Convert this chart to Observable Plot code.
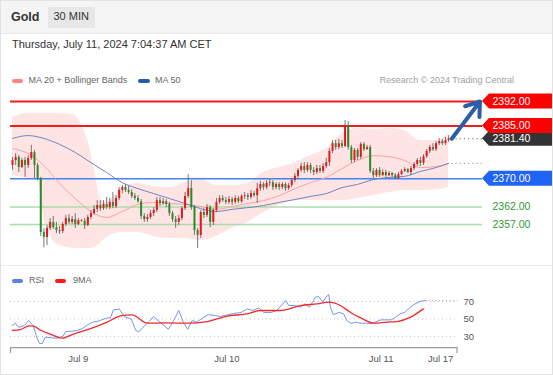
<!DOCTYPE html>
<html><head><meta charset="utf-8">
<script src="https://cdn.jsdelivr.net/npm/d3@7"></script>
<script src="https://cdn.jsdelivr.net/npm/@observablehq/plot@0.6"></script>
<style>
html,body{margin:0;padding:0;background:#fff;}
#wrap{position:relative;width:553px;height:375px;overflow:hidden;font-family:"Liberation Sans",Arial,sans-serif;}
.abs{position:absolute;white-space:nowrap;line-height:1;}
.sw{position:absolute;height:4px;border-radius:2px;}
svg{position:absolute;left:0;overflow:visible;}
</style></head><body>
<div id="wrap">
  <div class="abs" style="left:0;top:0;width:553px;height:33px;background:#f5f5f5;border-bottom:1px solid #e8e8e8;"></div>
  <div class="abs" style="left:11px;top:11px;font-size:12.5px;font-weight:bold;color:#333;">Gold</div>
  <div class="abs" style="left:48px;top:7px;width:47px;height:21px;background:#e7e7e7;border-radius:2px;"></div>
  <div class="abs" style="left:53.5px;top:11.4px;font-size:11px;color:#333;">30 MIN</div>
  <div class="abs" style="left:12px;top:39px;font-size:11px;color:#333;">Thursday, July 11, 2024 7:04:37 AM CET</div>
  <div class="sw" style="left:12px;top:79px;width:11px;background:#ff8585;"></div>
  <div class="abs" style="left:28.5px;top:76.4px;font-size:9px;color:#666;">MA 20 + Bollinger Bands</div>
  <div class="sw" style="left:138px;top:79px;width:12px;background:#2a5aa8;"></div>
  <div class="abs" style="left:155px;top:76.4px;font-size:9px;color:#666;">MA 50</div>
  <div class="abs" style="right:39px;top:76.4px;font-size:9px;color:#a0a0a0;">Research © 2024 Trading Central</div>
  <div class="abs" style="left:0;top:265px;width:553px;height:1px;background:#ececec;"></div>
  <div class="sw" style="left:12px;top:279px;width:11px;background:#5b80e8;"></div>
  <div class="abs" style="left:29px;top:276.4px;font-size:9px;color:#666;">RSI</div>
  <div class="sw" style="left:54.5px;top:279px;width:11.5px;background:#ff1a1a;"></div>
  <div class="abs" style="left:73px;top:276.4px;font-size:9px;color:#666;">9MA</div>
  <div id="main"></div>
  <div id="rsi"></div>
  <div class="abs" style="left:0;top:0;width:553px;height:375px;box-sizing:border-box;border:1px solid #e2e2e2;pointer-events:none;"></div>
</div>
<script>
// ---- price data (30 min candles) ----
const open = [2373.8,2375.2,2376.1,2373.2,2375.2,2373.8,2375.8,2377.5,2373.8,2370.1,
2354.7,2353.3,2355.9,2357.6,2356.1,2355.3,2355.0,2357.0,2358.7,2357.6,
2358.4,2357.0,2358.1,2357.9,2356.7,2359.0,2360.1,2361.3,2362.4,2361.5,
2362.7,2361.8,2363.3,2362.1,2364.4,2366.7,2367.5,2366.7,2366.1,2365.0,
2364.4,2363.5,2359.3,2358.4,2359.0,2360.1,2361.0,2363.8,2363.0,2363.5,
2362.7,2360.1,2358.4,2357.6,2358.7,2361.5,2365.0,2367.2,2361.8,2355.3,
2353.9,2360.4,2359.6,2361.8,2357.6,2361.0,2363.3,2364.4,2363.8,2363.3,
2364.1,2363.3,2364.4,2363.5,2365.0,2365.2,2364.7,2365.8,2365.2,2367.2,
2368.4,2367.5,2368.7,2368.9,2367.5,2368.4,2367.5,2368.4,2367.2,2368.1,
2369.5,2370.7,2372.4,2373.5,2372.4,2373.8,2372.4,2371.8,2372.9,2372.1,
2373.5,2374.6,2377.8,2380.0,2378.9,2380.0,2379.2,2385.2,2378.9,2375.2,
2378.1,2376.1,2379.8,2378.3,2378.9,2372.1,2370.9,2372.4,2370.9,2371.8,
2370.9,2371.5,2370.9,2370.1,2371.2,2372.1,2372.6,2371.8,2372.9,2374.1,
2375.2,2374.4,2376.3,2377.8,2378.9,2378.3,2380.0,2380.6,2380.0,2380.9];
const high = [2376.1,2377.2,2376.6,2375.8,2376.1,2376.6,2379.5,2378.1,2374.4,2370.4,
2355.9,2356.7,2358.7,2359.3,2357.6,2356.4,2357.6,2359.6,2359.8,2359.3,
2360.1,2358.7,2358.4,2358.7,2359.6,2361.0,2362.4,2363.8,2363.8,2363.8,
2364.7,2364.4,2366.1,2365.2,2367.5,2368.1,2368.4,2367.8,2366.9,2365.8,
2365.2,2364.1,2360.1,2359.8,2361.0,2361.8,2364.7,2364.7,2364.4,2364.1,
2363.3,2360.7,2359.3,2359.6,2362.1,2366.1,2371.2,2369.5,2362.4,2355.9,
2361.0,2361.5,2362.7,2362.4,2361.5,2364.4,2365.2,2365.2,2364.7,2365.0,
2364.7,2365.2,2365.0,2365.5,2366.1,2365.8,2366.7,2366.4,2368.7,2369.2,
2368.9,2369.5,2369.8,2369.5,2368.9,2368.9,2368.9,2368.9,2368.7,2370.1,
2371.5,2372.9,2374.4,2374.6,2374.6,2374.4,2373.2,2373.8,2373.8,2374.4,
2375.8,2378.6,2380.9,2380.9,2381.2,2380.9,2386.6,2386.3,2379.5,2378.6,
2378.6,2380.3,2380.3,2379.5,2379.5,2372.9,2372.9,2373.2,2372.6,2372.4,
2372.1,2371.8,2371.5,2371.8,2372.6,2373.2,2372.9,2373.5,2374.6,2375.8,
2376.1,2376.9,2378.3,2379.5,2380.0,2380.6,2381.5,2381.2,2381.8,2382.3];
const low = [2372.4,2373.8,2371.8,2372.9,2370.4,2372.9,2375.2,2370.1,2369.5,2353.6,
2350.4,2351.0,2355.3,2355.6,2354.4,2354.2,2354.4,2356.4,2357.0,2357.0,
2355.9,2356.7,2357.6,2355.6,2356.4,2358.4,2359.6,2360.4,2360.7,2361.0,
2361.3,2361.3,2361.5,2361.5,2363.8,2365.8,2366.1,2365.5,2364.4,2363.8,
2363.0,2358.4,2357.6,2357.6,2358.4,2359.3,2360.4,2362.1,2362.4,2361.8,
2359.3,2357.6,2355.9,2356.7,2358.1,2361.0,2364.4,2361.0,2353.9,2350.2,
2353.0,2358.7,2359.0,2356.1,2356.7,2360.4,2362.7,2363.3,2362.7,2362.7,
2362.4,2362.7,2363.0,2363.0,2364.1,2363.8,2364.1,2364.7,2363.0,2366.4,
2366.7,2366.9,2367.8,2366.7,2366.9,2366.7,2366.9,2366.4,2366.7,2367.5,
2368.9,2370.1,2371.8,2371.5,2371.8,2371.5,2370.9,2371.2,2371.5,2371.5,
2372.9,2373.5,2377.2,2378.1,2378.3,2378.6,2378.9,2378.1,2374.4,2374.6,
2375.2,2375.5,2377.8,2378.1,2371.5,2370.1,2370.4,2370.4,2370.7,2370.4,
2370.7,2370.4,2369.8,2369.8,2370.9,2371.8,2371.5,2370.9,2372.4,2373.5,
2373.5,2373.8,2375.8,2377.2,2377.8,2377.8,2379.5,2379.5,2379.5,2380.3];
const close = [2375.2,2376.1,2373.2,2375.2,2373.8,2375.8,2377.5,2373.8,2370.1,2354.7,
2353.3,2355.9,2357.6,2356.1,2355.3,2355.0,2357.0,2358.7,2357.6,2358.4,
2357.0,2358.1,2357.9,2356.7,2359.0,2360.1,2361.3,2362.4,2361.5,2362.7,
2361.8,2363.3,2362.1,2364.4,2366.7,2367.5,2366.7,2366.1,2365.0,2364.4,
2363.5,2359.3,2358.4,2359.0,2360.1,2361.0,2363.8,2363.0,2363.5,2362.7,
2360.1,2358.4,2357.6,2358.7,2361.5,2365.0,2367.2,2361.8,2355.3,2353.9,
2360.4,2359.6,2361.8,2357.6,2361.0,2363.3,2364.4,2363.8,2363.3,2364.1,
2363.3,2364.4,2363.5,2365.0,2365.2,2364.7,2365.8,2365.2,2367.2,2368.4,
2367.5,2368.7,2368.9,2367.5,2368.4,2367.5,2368.4,2367.2,2368.1,2369.5,
2370.7,2372.4,2373.5,2372.4,2373.8,2372.4,2371.8,2372.9,2372.1,2373.5,
2374.6,2377.8,2380.0,2378.9,2380.0,2379.2,2385.2,2378.9,2375.2,2378.1,
2376.1,2379.8,2378.3,2378.9,2372.1,2370.9,2372.4,2370.9,2371.8,2370.9,
2371.5,2370.9,2370.1,2371.2,2372.1,2372.6,2371.8,2372.9,2374.1,2375.2,
2374.4,2376.3,2377.8,2378.9,2378.3,2380.0,2380.6,2380.0,2380.9,2381.4];

// ---- moving averages (read at candle indexes) ----
const maIdx = [0,5,10,15,20,25,30,35,40,45,50,55,60,65,70,75,80,85,90,95,100,105,110,115,120,125,130,135,139];
const ma20 = [2378.6,2377.2,2373.8,2368.7,2364.4,2360.7,2359.0,2360.7,2362.7,2363.3,2363.0,2362.7,2362.1,2361.3,2362.1,2363.0,2363.8,2365.2,2367.2,2368.9,2370.4,2372.9,2375.2,2376.6,2376.3,2375.2,2373.2,2373.5,2374.4];
const ma50 = [2381.5,2382.3,2381.5,2379.8,2377.5,2374.6,2371.8,2368.9,2367.2,2365.8,2364.4,2363.0,2361.5,2360.7,2361.3,2361.8,2362.4,2363.3,2364.1,2365.0,2365.8,2367.5,2368.4,2369.8,2370.4,2370.7,2372.1,2373.2,2374.4];
const bandIdx = [0,5,8,10,12,15,20,22,24,26,28,30,35,40,45,50,55,60,65,70,75,80,85,90,95,100,105,110,115,120,125,130,135,139];
const bandUpper = [2387.4,2388.6,2388.6,2388.6,2388.6,2388.6,2388.0,2385.2,2380.9,2372.9,2364.4,2363.3,2367.5,2368.7,2367.8,2367.5,2368.9,2369.8,2368.1,2368.1,2368.7,2371.8,2373.2,2374.6,2376.6,2378.6,2382.9,2384.3,2384.0,2384.3,2383.7,2380.9,2380.9,2382.9];
const bandLower = [2370.9,2370.1,2369.5,2358.7,2353.9,2351.0,2350.2,2350.2,2350.2,2350.4,2351.6,2353.3,2354.7,2354.7,2353.6,2353.0,2353.0,2352.4,2353.6,2355.9,2357.6,2360.4,2362.4,2363.8,2363.8,2363.8,2363.8,2364.4,2365.2,2366.1,2366.7,2366.7,2366.9,2367.5];

// ---- levels ----
const resistance = [2392, 2385];
const pivot = 2370;
const support = [2362, 2357];

// ---- RSI panel ----
const rsiIdx = [0,1,2,4,5.5,7,8,9,10,11,13,15,17,18,20,22,23.5,25,27,28.5,30,32,33,34,36,37,38,40,41.5,42.5,44,46,47.5,49,51,52.5,54,56,57.5,59,60.5,62,64.5,66,68,70,72,74.5,77,79,81,83,84.5,87,89,91,92,93,95,97,98.5,100,102,103,104.5,105.5,106.5,107,108,110,111.5,112.5,114,115.5,117,119,120.5,122,124,125.5,127.5,129,130.5,132,134,135.5,137.5,139];
const rsiVal = [42.6,45.2,40.6,42.6,48.3,42.6,31.1,22.4,21.7,29.3,28.5,28.1,30.3,35.9,35.9,37.1,39.0,42.6,46.4,47.1,49.0,51.3,51.3,60.5,61.2,55.9,52.1,50.2,37.1,35.2,40.6,47.1,52.9,48.3,42.6,38.3,46.4,59.7,46.4,38.3,48.3,46.4,52.1,55.1,54.0,52.9,54.4,56.3,57.5,61.6,59.7,62.8,57.5,57.5,59.7,67.3,71.1,65.4,65.4,63.5,67.3,63.5,74.9,75.7,69.2,74.9,78.0,63.5,55.1,57.5,55.9,48.3,44.8,46.4,45.2,45.2,44.8,46.4,49.0,49.0,49.0,52.1,55.9,57.5,63.5,67.3,70.4,71.1];
const ma9Idx = [0,2.7,5.5,7.2,9.5,12.8,16.7,20.7,26.3,31.9,36.4,40.3,45.4,52.1,58.8,65.6,72.3,79,83.5,90.2,97,102.6,106.5,110.4,113.8,117.2,121.6,126.1,129.5,134,138.3];
const ma9Val = [37.1,37.9,42.2,41.8,37.1,32.6,28.1,33.0,39.0,46.4,53.6,54.7,45.2,45.6,45.2,47.1,53.3,55.9,59.7,59.7,65.4,67.3,69.2,65.4,57.5,51.3,45.2,46.4,47.1,52.1,61.6];
const rsiTicks = [30, 50, 70];
const dateTickIdx = [22.2, 72.2, 124.1, 144.1];
const dateTickLabels = ["Jul 9", "Jul 10", "Jul 11", "Jul 17"];

// ---- build ----
const N = close.length;
const candles = close.map((c, i) => ({i, o: open[i], h: high[i], l: low[i], c}));
const up = candles.filter(d => d.c >= d.o);
const down = candles.filter(d => d.c < d.o);
const maPts = maIdx.map((i, k) => ({i, a: ma20[k], b: ma50[k]}));
const bandPts = bandIdx.map((i, k) => ({i, u: bandUpper[k], l: bandLower[k]}));
const rsiPts = rsiIdx.map((i, k) => ({i, v: rsiVal[k]}));
const ma9Pts = ma9Idx.map((i, k) => ({i, v: ma9Val[k]}));
const lastPrice = close[N - 1];
const lastMa50 = ma50[ma50.length - 1];
const xDomain = [-0.64, N + 9.8];
const font = "Liberation Sans, Arial, sans-serif";

const main = Plot.plot({
  width: 553, height: 175, marginLeft: 10, marginRight: 71, marginTop: 0, marginBottom: 0,
  style: {fontFamily: font, background: "transparent", overflow: "visible"},
  x: {domain: xDomain, axis: null},
  y: {domain: [2357, 2392], range: [136, 13], axis: null},
  marks: [
    Plot.areaY(bandPts, {x: "i", y1: "l", y2: "u", fill: "#ffe4e4", curve: "monotone-x"}),
    Plot.ruleY(support, {stroke: "#acdcac", strokeWidth: 1.5}),
    Plot.ruleY([pivot], {stroke: "#4a80f0", strokeWidth: 1.5}),
    Plot.ruleY(resistance, {stroke: "#f01c1c", strokeWidth: 2}),
    Plot.line(maPts, {x: "i", y: "a", stroke: "#f6a3a3", strokeWidth: 1, curve: "monotone-x"}),
    Plot.line(maPts, {x: "i", y: "b", stroke: "#6a86c4", strokeWidth: 1, curve: "monotone-x"}),
    Plot.ruleY([lastPrice], {x1: N, x2: N + 9.8, stroke: "#666", strokeDasharray: "1.2,3"}),
    Plot.ruleY([lastMa50], {x1: N, x2: N + 9.8, stroke: "#7a98d8", strokeDasharray: "1.2,3"}),
    Plot.ruleX(candles, {x: "i", y1: "l", y2: "h", stroke: "#555", strokeWidth: 0.8}),
    Plot.ruleX(up, {x: "i", y1: "o", y2: "c", stroke: "#e8161c", strokeWidth: 2}),
    Plot.ruleX(down, {x: "i", y1: "o", y2: "c", stroke: "#2b8a2b", strokeWidth: 2}),
    Plot.arrow([{x1: N, y1: lastPrice, x2: N + 9, y2: resistance[0]}],
      {x1: "x1", y1: "y1", x2: "x2", y2: "y2", stroke: "#2c5ea8", strokeWidth: 4, headLength: 9, headAngle: 70})
  ]
});
main.style.top = "88px";
document.getElementById("main").appendChild(main);

const ys = main.scale("y");
const g = d3.select(main).append("g").attr("font-family", font).attr("font-size", 10.5).attr("text-anchor", "start");
function tag(v, fill) {
  const y = ys.apply(v);
  g.append("path").attr("d", `M482,${y} L489,${y - 7.5} H553 V${y + 7.5} H489 Z`).attr("fill", fill);
  g.append("text").attr("x", 492.5).attr("y", y).attr("dy", "0.36em").attr("fill", "#fff").text(d3.format(".2f")(v));
}
tag(lastPrice, "#333333");
resistance.forEach(v => tag(v, "#ff0000"));
tag(pivot, "#1f64f5");
support.forEach(v => {
  g.append("text").attr("x", 492.5).attr("y", ys.apply(v)).attr("dy", "0.36em").attr("fill", "#2f9a2f").text(d3.format(".2f")(v));
});

const labelOf = new Map(dateTickIdx.map((d, k) => [d, dateTickLabels[k]]));
const rsi = Plot.plot({
  width: 553, height: 80, marginLeft: 10, marginRight: 96, marginTop: 0, marginBottom: 20,
  style: {fontFamily: font, background: "transparent", overflow: "visible"},
  x: {domain: xDomain, axis: null, label: null},
  y: {domain: [30, 70], range: [48, 13], axis: null, label: null},
  marks: [
    Plot.ruleY(rsiTicks, {stroke: "#c4c4c4", strokeDasharray: "1,3"}),
    Plot.axisY(rsiTicks, {anchor: "right", tickSize: 0, tickPadding: 6, fontSize: 9.5, fill: "#555", label: null}),
    Plot.ruleY([rsiVal[rsiVal.length - 1]], {x1: rsiIdx[rsiIdx.length - 1], x2: N + 9.8, stroke: "#8ea6ee", strokeDasharray: "1,2.5"}),
    Plot.line(rsiPts, {x: "i", y: "v", stroke: "#7595ee", strokeWidth: 1}),
    Plot.line(ma9Pts, {x: "i", y: "v", stroke: "#f22a2a", strokeWidth: 1.3, curve: "monotone-x"}),
    Plot.axisX(dateTickIdx, {anchor: "bottom", tickSize: 0, tickPadding: 7, fontSize: 9.5, fill: "#555", label: null, tickFormat: d => labelOf.get(d)})
  ]
});
rsi.style.top = "288px";
document.getElementById("rsi").appendChild(rsi);
d3.select(rsi).append("path").attr("d", "M10.5,65 V59.7 H457 V65").attr("fill", "none").attr("stroke", "#9a9a9a").attr("stroke-width", 1.2);
</script>
</body></html>
